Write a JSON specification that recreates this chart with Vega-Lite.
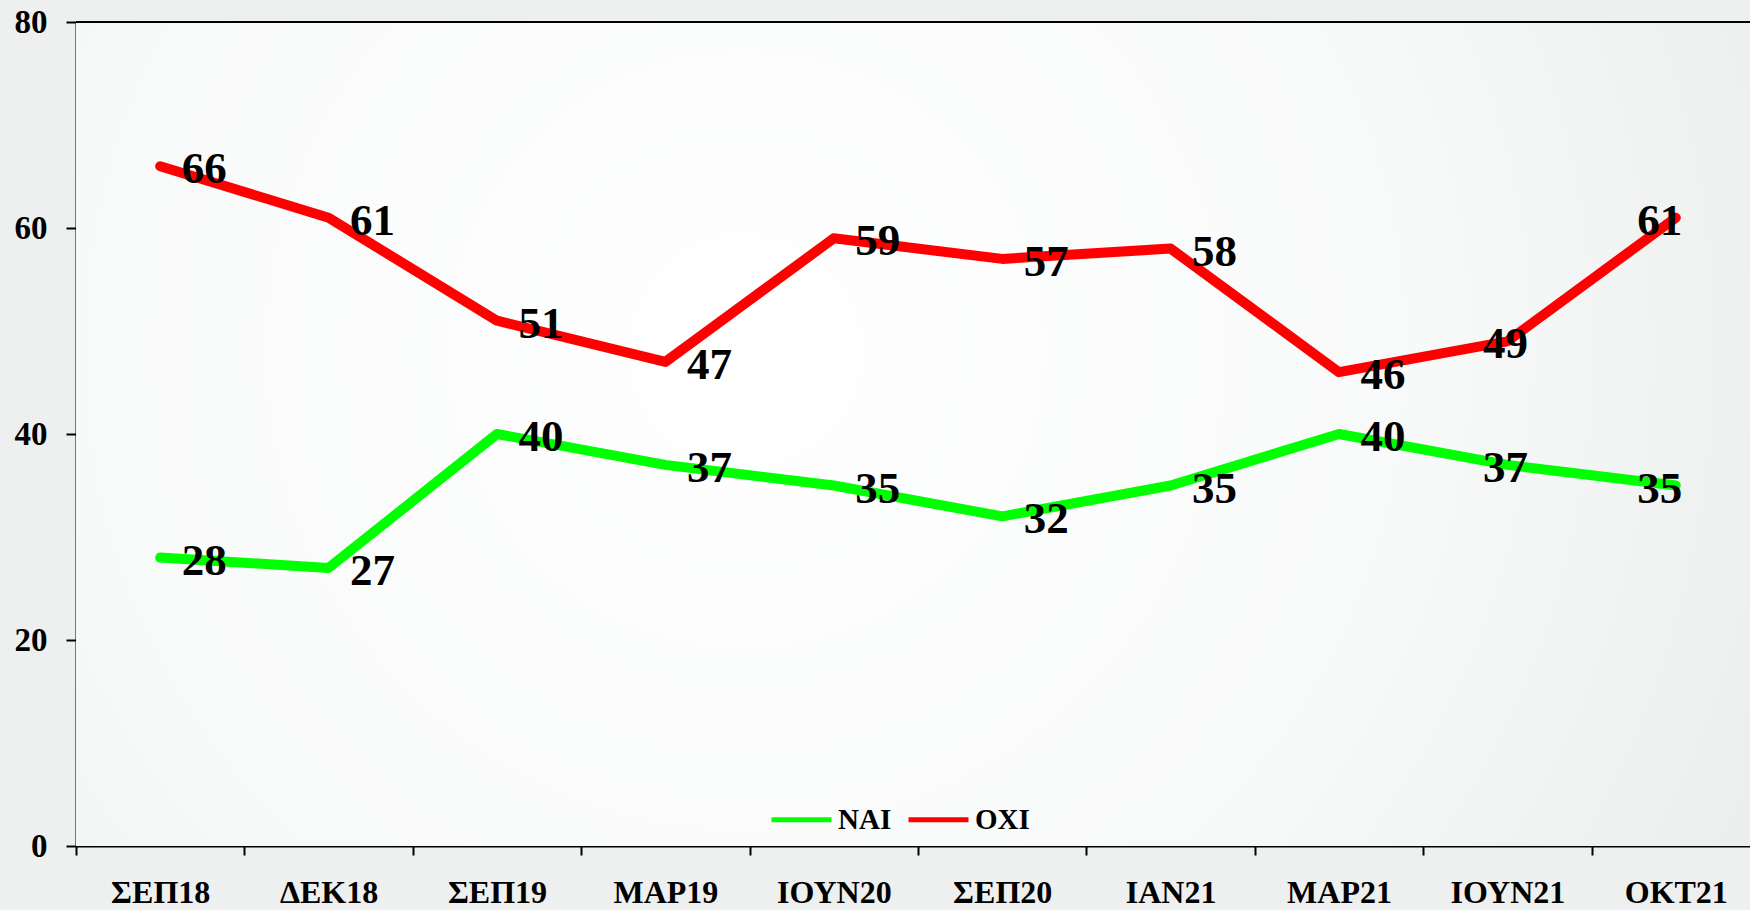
{
  "$schema": "https://vega.github.io/schema/vega-lite/v6.json",
  "width": 1674,
  "height": 824,
  "autosize": {"type": "none"},
  "padding": {"left": 76, "top": 22, "right": 0, "bottom": 64},
  "background": "#eeefef",
  "config": {
    "view": {"stroke": null},
    "font": "Liberation Serif",
    "axis": {
      "labelFont": "Liberation Serif",
      "labelFontWeight": "bold",
      "labelColor": "#000000",
      "domainColor": "#000000",
      "tickColor": "#000000",
      "domainWidth": 2,
      "tickWidth": 2,
      "grid": false,
      "title": null
    }
  },
  "data": {
    "values": [
      {"m": "ΣΕΠ18", "s": "ΝΑΙ", "v": 28}, {"m": "ΣΕΠ18", "s": "ΟΧΙ", "v": 66},
      {"m": "ΔΕΚ18", "s": "ΝΑΙ", "v": 27}, {"m": "ΔΕΚ18", "s": "ΟΧΙ", "v": 61},
      {"m": "ΣΕΠ19", "s": "ΝΑΙ", "v": 40}, {"m": "ΣΕΠ19", "s": "ΟΧΙ", "v": 51},
      {"m": "ΜΑΡ19", "s": "ΝΑΙ", "v": 37}, {"m": "ΜΑΡ19", "s": "ΟΧΙ", "v": 47},
      {"m": "ΙΟΥΝ20", "s": "ΝΑΙ", "v": 35}, {"m": "ΙΟΥΝ20", "s": "ΟΧΙ", "v": 59},
      {"m": "ΣΕΠ20", "s": "ΝΑΙ", "v": 32}, {"m": "ΣΕΠ20", "s": "ΟΧΙ", "v": 57},
      {"m": "ΙΑΝ21", "s": "ΝΑΙ", "v": 35}, {"m": "ΙΑΝ21", "s": "ΟΧΙ", "v": 58},
      {"m": "ΜΑΡ21", "s": "ΝΑΙ", "v": 40}, {"m": "ΜΑΡ21", "s": "ΟΧΙ", "v": 46},
      {"m": "ΙΟΥΝ21", "s": "ΝΑΙ", "v": 37}, {"m": "ΙΟΥΝ21", "s": "ΟΧΙ", "v": 49},
      {"m": "ΟΚΤ21", "s": "ΝΑΙ", "v": 35}, {"m": "ΟΚΤ21", "s": "ΟΧΙ", "v": 61}
    ]
  },
  "encoding": {
    "x": {
      "field": "m", "type": "nominal", "sort": null,
      "scale": {"type": "band", "paddingInner": 0, "paddingOuter": 0, "range": [0, 1684]},
      "axis": {"labelAngle": 0, "tickBand": "extent", "tickSize": 9, "labelPadding": 22, "labelFontSize": 32}
    },
    "y": {
      "field": "v", "type": "quantitative",
      "scale": {"domain": [0, 80], "nice": false},
      "axis": {"values": [0, 20, 40, 60, 80], "tickSize": 10, "labelPadding": 19, "labelFontSize": 33}
    }
  },
  "layer": [
    {
      "mark": {
        "type": "rect",
        "color": {
          "gradient": "radial",
          "x1": 0.4, "y1": 0.45, "r1": 0,
          "x2": 0.4, "y2": 0.45, "r2": 0.8,
          "stops": [
            {"offset": 0, "color": "#ffffff"},
            {"offset": 0.5, "color": "#f8f9f9"},
            {"offset": 1, "color": "#e6e7e7"}
          ]
        }
      },
      "encoding": {"x": null, "y": null}
    },
    {
      "mark": {"type": "rule", "color": "#000000", "strokeWidth": 2},
      "encoding": {"x": null, "y": {"datum": 80}}
    },
    {
      "mark": {"type": "line", "strokeWidth": 10, "strokeCap": "round", "strokeJoin": "round"},
      "encoding": {
        "color": {
          "field": "s", "type": "nominal",
          "scale": {"domain": ["ΝΑΙ", "ΟΧΙ"], "range": ["#00ff00", "#ff0000"]},
          "legend": {
            "title": null,
            "orient": "none",
            "direction": "horizontal",
            "legendX": 693,
            "legendY": 765,
            "symbolType": "stroke",
            "symbolSize": 3600,
            "symbolStrokeWidth": 5,
            "labelFont": "Liberation Serif",
            "labelFontWeight": "bold",
            "labelFontSize": 29,
            "labelColor": "#000000",
            "labelOffset": 4,
            "columnPadding": 6
          }
        }
      }
    },
    {
      "transform": [{"filter": "datum.m != 'ΙΟΥΝ21' && datum.m != 'ΟΚΤ21'"}],
      "mark": {"type": "text", "font": "Liberation Serif", "fontWeight": "bold", "fontSize": 45, "color": "#000000", "align": "center", "baseline": "middle", "dx": 44, "dy": 3},
      "encoding": {"text": {"field": "v"}}
    },
    {
      "transform": [{"filter": "datum.m == 'ΙΟΥΝ21'"}],
      "mark": {"type": "text", "font": "Liberation Serif", "fontWeight": "bold", "fontSize": 45, "color": "#000000", "align": "center", "baseline": "middle", "dx": -2, "dy": 3},
      "encoding": {"text": {"field": "v"}}
    },
    {
      "transform": [{"filter": "datum.m == 'ΟΚΤ21'"}],
      "mark": {"type": "text", "font": "Liberation Serif", "fontWeight": "bold", "fontSize": 45, "color": "#000000", "align": "center", "baseline": "middle", "dx": -16, "dy": 3},
      "encoding": {"text": {"field": "v"}}
    }
  ]
}
